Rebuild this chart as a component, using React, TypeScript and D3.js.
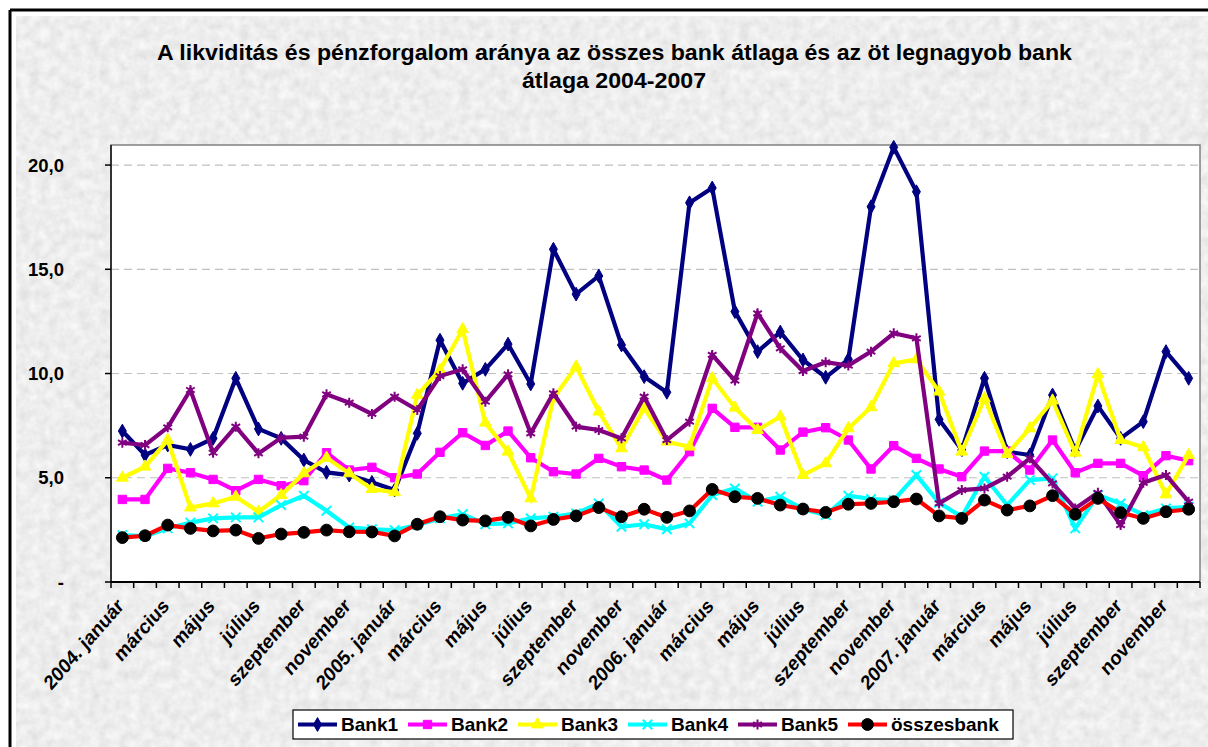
import React from "react";
import * as d3 from "d3";

const tickLabels = [
  "2004. január", "február", "március", "április", "május", "június", "július", "augusztus", "szeptember", "október", "november", "december",
  "2005. január", "február", "március", "április", "május", "június", "július", "augusztus", "szeptember", "október", "november", "december",
  "2006. január", "február", "március", "április", "május", "június", "július", "augusztus", "szeptember", "október", "november", "december",
  "2007. január", "február", "március", "április", "május", "június", "július", "augusztus", "szeptember", "október", "november", "december",
];

const bank1 = [7.24, 6.09, 6.57, 6.36, 6.89, 9.77, 7.34, 6.89, 5.85, 5.26, 5.13, 4.78, 4.41, 7.13, 11.6, 9.53, 10.2, 11.41, 9.5, 15.96, 13.81, 14.68, 11.37, 9.85, 9.1, 18.19, 18.9, 12.97, 11.05, 11.99, 10.65, 9.82, 10.68, 18.0, 20.85, 18.72, 7.8, 6.33, 9.77, 6.25, 6.09, 8.97, 6.3, 8.44, 6.89, 7.69, 11.05, 9.77];
const bank2 = [3.96, 3.96, 5.45, 5.24, 4.92, 4.38, 4.92, 4.62, 4.86, 6.2, 5.37, 5.5, 5.0, 5.18, 6.22, 7.16, 6.55, 7.24, 5.96, 5.29, 5.18, 5.93, 5.53, 5.37, 4.89, 6.25, 8.33, 7.42, 7.42, 6.33, 7.19, 7.4, 6.81, 5.42, 6.54, 5.93, 5.42, 5.05, 6.28, 6.28, 5.37, 6.81, 5.24, 5.69, 5.69, 5.1, 6.06, 5.82];
const bank3 = [5.0, 5.53, 6.81, 3.57, 3.77, 4.09, 3.37, 4.17, 5.21, 5.96, 5.21, 4.46, 4.3, 8.97, 10.17, 12.12, 7.64, 6.25, 4.01, 8.81, 10.33, 8.17, 6.41, 8.33, 6.73, 6.49, 9.77, 8.36, 7.29, 7.93, 5.13, 5.69, 7.37, 8.38, 10.49, 10.68, 9.13, 6.25, 8.81, 6.14, 7.37, 8.7, 6.2, 9.96, 6.81, 6.46, 4.2, 6.09];
const bank4 = [2.25, 2.2, 2.57, 2.85, 3.05, 3.1, 3.1, 3.69, 4.14, 3.42, 2.62, 2.53, 2.49, 2.73, 3.05, 3.25, 2.77, 2.81, 3.05, 3.13, 3.29, 3.77, 2.65, 2.77, 2.53, 2.81, 4.17, 4.49, 3.85, 4.09, 3.5, 3.21, 4.14, 3.98, 3.93, 5.13, 3.8, 3.13, 5.05, 3.69, 4.89, 4.97, 2.57, 4.17, 3.77, 3.21, 3.53, 3.61];
const bank5 = [6.68, 6.57, 7.42, 9.21, 6.2, 7.45, 6.17, 6.92, 6.97, 9.0, 8.6, 8.06, 8.89, 8.25, 9.88, 10.2, 8.65, 9.96, 7.13, 9.05, 7.45, 7.29, 6.89, 8.89, 6.81, 7.69, 10.89, 9.66, 12.89, 11.21, 10.12, 10.54, 10.38, 11.05, 11.93, 11.69, 3.77, 4.41, 4.49, 5.05, 5.93, 4.73, 3.53, 4.28, 2.73, 4.76, 5.13, 3.85];
const osszesbank = [2.13, 2.22, 2.73, 2.57, 2.45, 2.49, 2.09, 2.3, 2.38, 2.49, 2.41, 2.4, 2.21, 2.77, 3.13, 2.97, 2.93, 3.1, 2.69, 3.0, 3.17, 3.57, 3.13, 3.49, 3.1, 3.41, 4.44, 4.09, 4.01, 3.69, 3.5, 3.34, 3.73, 3.77, 3.85, 3.98, 3.17, 3.05, 3.93, 3.45, 3.65, 4.14, 3.25, 4.01, 3.33, 3.05, 3.37, 3.49];

const yTicks = [0, 5, 10, 15, 20];
const yTickLabels = ["-", "5,0", "10,0", "15,0", "20,0"];

const seriesNames = ["Bank1", "Bank2", "Bank3", "Bank4", "Bank5", "összesbank"];
const seriesData = [bank1, bank2, bank3, bank4, bank5, osszesbank];

const titleLines = ["A likviditás és pénzforgalom aránya az összes bank átlaga és az öt legnagyob bank", "átlaga 2004-2007"];

const W = 1208;
const H = 747;
const plot = { left: 111, right: 1200, top: 145, bottom: 582 };
const FONT = "Arial, 'Liberation Sans', Helvetica, sans-serif";

type Style = { line: string; width: number; marker: string; fill: string; stroke: string; size: number };
const styles: Style[] = [
  { line: "#000080", width: 4.2, marker: "diamond", fill: "#000080", stroke: "#000080", size: 55 },
  { line: "#FF00FF", width: 4.2, marker: "square", fill: "#FF00FF", stroke: "#FF00FF", size: 70 },
  { line: "#FFFF00", width: 4.2, marker: "triangle", fill: "#FFFF00", stroke: "#FFFF00", size: 60 },
  { line: "#00FFFF", width: 4.2, marker: "x", fill: "none", stroke: "#00FFFF", size: 60 },
  { line: "#800080", width: 4.2, marker: "asterisk", fill: "none", stroke: "#800080", size: 70 },
  { line: "#FF0000", width: 4.2, marker: "circle", fill: "#000000", stroke: "#000000", size: 110 },
];

function markerPath(kind: string, size: number): string {
  const t =
    kind === "diamond" ? d3.symbolDiamond :
    kind === "square" ? d3.symbolSquare :
    kind === "triangle" ? d3.symbolTriangle :
    kind === "x" ? d3.symbolTimes :
    kind === "asterisk" ? d3.symbolAsterisk :
    d3.symbolCircle;
  return d3.symbol().type(t).size(size)() || "";
}

export default function App() {
  const x = d3.scaleBand<number>().domain(d3.range(tickLabels.length)).range([plot.left, plot.right]).padding(0);
  const y = d3.scaleLinear().domain([0, 21]).range([plot.bottom, plot.top - 0.8]);
  const cx = (i: number) => (x(i) as number) + x.bandwidth() / 2;
  const line = d3.line<number>().x((_, i) => cx(i)).y((d) => y(d));

  const boundaries = d3.range(tickLabels.length + 1).map((i) => plot.left + i * x.bandwidth());

  const legendX = [298, 408, 518, 628, 738, 848];
  const legendY = 724.5;

  return (
    <svg width={W} height={H} style={{ position: "absolute", left: 0, top: 0, background: "#fff" }} fontFamily={FONT}>
      <defs>
        <filter id="granite" x="0" y="0" width="100%" height="100%">
          <feTurbulence type="fractalNoise" baseFrequency="0.1" numOctaves="3" seed="4" />
          <feColorMatrix type="matrix" values="0.26 0 0 0 0.72  0.26 0 0 0 0.72  0.26 0 0 0 0.72  0 0 0 0 1" />
        </filter>
      </defs>
      {/* outer frame */}
      <rect x={0} y={0} width={W} height={H} fill="#fff" />
      <rect x={16} y={16} width={W - 16} height={H - 16} filter="url(#granite)" />
      <line x1={10} y1={10} x2={W} y2={10} stroke="#000" strokeWidth={3} />
      <line x1={10} y1={10} x2={10} y2={H} stroke="#000" strokeWidth={3} />

      {/* title */}
      <text x={614.5} y={60} textAnchor="middle" fontSize={22} fontWeight="bold" fill="#000" textLength={915} lengthAdjust="spacingAndGlyphs">
        {titleLines[0]}
      </text>
      <text x={614} y={88} textAnchor="middle" fontSize={22} fontWeight="bold" fill="#000" textLength={184} lengthAdjust="spacingAndGlyphs">
        {titleLines[1]}
      </text>

      {/* plot area */}
      <rect x={plot.left} y={plot.top} width={plot.right - plot.left} height={plot.bottom - plot.top} fill="#fff" stroke="#808080" strokeWidth={1.5} />

      {/* gridlines */}
      {yTicks.filter((t) => t > 0).map((t) => (
        <line key={"g" + t} x1={plot.left} x2={plot.right} y1={y(t)} y2={y(t)} stroke="#c0c0c0" strokeWidth={1.2} strokeDasharray="8,5" />
      ))}

      {/* axes */}
      <line x1={plot.left} x2={plot.left} y1={plot.top} y2={plot.bottom} stroke="#333" strokeWidth={2} />
      <line x1={plot.left} x2={plot.right} y1={plot.bottom} y2={plot.bottom} stroke="#000" strokeWidth={2} />
      {yTicks.map((t, i) => (
        <g key={"yt" + t}>
          <line x1={plot.left - 6} x2={plot.left} y1={y(t)} y2={y(t)} stroke="#000" strokeWidth={1.5} />
          <text x={64} y={y(t)} dy="0.36em" textAnchor="end" fontSize={18.5} fontWeight="bold" fill="#000">
            {yTickLabels[i]}
          </text>
        </g>
      ))}
      {boundaries.map((bx, i) => (
        <line key={"xt" + i} x1={bx} x2={bx} y1={plot.bottom} y2={plot.bottom + 6} stroke="#000" strokeWidth={1.5} />
      ))}
      {tickLabels.map((lab, i) =>
        i % 2 === 0 ? (
          <text
            key={"xl" + i}
            transform={`translate(${cx(i) - 2},${plot.bottom + 20}) scale(1,1.14) rotate(-45)`}
            textAnchor="end"
            dy="0.35em"
            fontSize={18}
            fontWeight="bold"
            fill="#000"
          >
            {lab}
          </text>
        ) : null
      )}

      {/* series */}
      {seriesData.map((data, s) => (
        <g key={"s" + s}>
          <path d={line(data) || ""} fill="none" stroke={styles[s].line} strokeWidth={styles[s].width} strokeLinejoin="miter" />
          {data.map((v, i) => (
            <path
              key={i}
              d={markerPath(styles[s].marker, styles[s].size)}
              transform={`translate(${cx(i)},${y(v)})`}
              fill={styles[s].fill}
              stroke={styles[s].stroke}
              strokeWidth={styles[s].fill === "none" ? 2 : 1}
            />
          ))}
        </g>
      ))}

      {/* legend */}
      <rect x={293} y={710} width={720} height={29} fill="#fff" stroke="#000" strokeWidth={1.2} />
      {seriesNames.map((name, s) => (
        <g key={"lg" + s}>
          <line x1={legendX[s]} x2={legendX[s] + 39} y1={legendY} y2={legendY} stroke={styles[s].line} strokeWidth={styles[s].width} />
          <path
            d={markerPath(styles[s].marker, styles[s].size)}
            transform={`translate(${legendX[s] + 19.5},${legendY})`}
            fill={styles[s].fill}
            stroke={styles[s].stroke}
            strokeWidth={styles[s].fill === "none" ? 2 : 1}
          />
          <text x={legendX[s] + 43} y={legendY} dy="0.36em" fontSize={19} fontWeight="bold" fill="#000">
            {name}
          </text>
        </g>
      ))}
    </svg>
  );
}
